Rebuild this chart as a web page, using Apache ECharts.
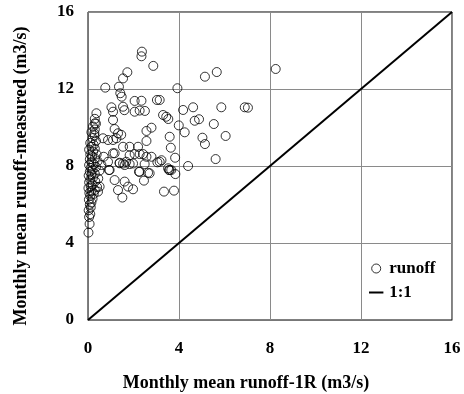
<!DOCTYPE html>
<html>
<head>
<meta charset="utf-8">
<script src="https://cdn.jsdelivr.net/npm/echarts@6/dist/echarts.min.js"></script>
<style>
  html, body { margin: 0; padding: 0; background: #fff; }
  #chart { width: 464px; height: 394px; }
</style>
</head>
<body>
<div id="chart"></div>
<script>
// x: runoff-1R, y: measured (m3/s)
var runoff1R = [
  0.02, 0.07, 0.05, 0.10, 0.03, 0.12, 0.08, 0.15, 0.04, 0.20, 0.10, 0.06, 0.25, 0.15, 0.30, 0.02,
  0.12, 0.40, 0.20, 0.05, 0.32, 0.10, 0.22, 0.45, 0.03, 0.15, 0.30, 0.08, 0.20, 0.50, 0.12, 0.35,
  0.05, 0.25, 0.15, 0.42, 0.08, 0.30, 0.18, 0.10, 0.38, 0.22, 0.05, 0.30, 0.15, 0.25, 0.10, 0.35,
  0.20, 0.28, 0.15, 0.30, 0.22, 0.35, 0.30, 0.37, 0.28, 0.30,
  2.37, 2.35, 2.87, 1.73, 1.54, 0.76, 1.36, 1.42, 1.48, 3.93, 5.14, 5.66, 8.25, 1.03, 1.10, 1.54,
  1.60, 2.05, 2.35, 2.05, 2.27, 2.50, 3.03, 3.15, 3.30, 3.44, 3.53, 4.18, 4.62, 4.69, 4.88, 5.86,
  6.89, 7.03, 5.53, 3.99, 4.25, 6.05, 5.03, 5.14, 5.61, 4.40, 2.57, 2.79, 3.59, 2.57, 3.64, 3.83,
  3.23, 3.05, 3.59, 3.84, 1.10, 1.17, 1.32, 1.46, 0.66, 0.88, 1.10, 1.25, 1.54, 1.83, 2.20, 1.17,
  2.05, 2.27, 2.42, 2.57, 2.79, 0.69, 0.88, 1.39, 1.54, 1.68, 1.83, 1.98, 2.49, 0.95, 2.27, 2.64,
  3.52, 3.66, 1.17, 1.61, 1.32, 1.51, 1.76, 1.98, 2.46, 2.24, 2.71, 3.34, 3.78, 3.15, 3.56, 1.39,
  1.61, 0.59, 0.92, 1.10, 1.83, 0.51, 0.44
];
var runoffMeasured = [
  4.54, 4.99, 5.35, 5.50, 5.70, 5.85, 6.00, 6.10, 6.25, 6.30, 6.45, 6.60, 6.55, 6.70, 6.75, 6.85,
  6.95, 6.90, 7.05, 7.15, 7.20, 7.30, 7.40, 7.35, 7.50, 7.55, 7.60, 7.70, 7.80, 7.75, 7.90, 7.95,
  8.05, 8.10, 8.20, 8.25, 8.35, 8.40, 8.50, 8.60, 8.60, 8.75, 8.85, 8.90, 9.00, 9.10, 9.20, 9.30,
  9.45, 9.60, 9.75, 9.90, 10.05, 10.20, 10.45, 10.74, 9.70, 10.22,
  13.94, 13.70, 13.20, 12.87, 12.55, 12.07, 12.12, 11.78, 11.60, 12.04, 12.64, 12.88, 13.04, 11.05, 10.82, 11.08,
  10.90, 11.38, 11.39, 10.82, 10.88, 10.86, 11.43, 11.43, 10.65, 10.56, 10.44, 10.91, 11.05, 10.35, 10.43, 11.05,
  11.05, 11.03, 10.18, 10.11, 9.75, 9.56, 9.47, 9.14, 8.36, 8.00, 9.82, 9.99, 9.52, 9.30, 8.95, 8.43,
  8.30, 8.19, 7.79, 7.58, 10.39, 9.92, 9.70, 9.62, 9.44, 9.35, 9.35, 9.44, 9.00, 9.00, 9.00, 8.66,
  8.62, 8.62, 8.62, 8.48, 8.48, 8.48, 8.22, 8.17, 8.13, 8.22, 8.10, 8.13, 8.10, 7.79, 7.70, 7.65,
  7.88, 7.79, 7.27, 7.19, 6.75, 6.36, 6.93, 6.79, 7.24, 7.70, 7.62, 6.67, 6.72, 8.22, 7.79, 8.14,
  8.05, 8.05, 7.79, 8.66, 8.56, 6.93, 6.67
];
var lineX = [0, 16];
var lineY = [0, 16];

var chart = echarts.init(document.getElementById('chart'));
var font = '"Liberation Serif", "Times New Roman", serif';

var scatterData = runoff1R.map(function (x, i) { return [x, runoffMeasured[i]]; });
var lineData = lineX.map(function (x, i) { return [x, lineY[i]]; });

// thin bar centred in the legend box (tiny corner triangles keep the box size)
var lineIcon = 'path://M0,0 L0.01,0 L0,0.01 Z M0,4 L16,4 L16,6.2 L0,6.2 Z M15.99,10 L16,10 L16,9.99 Z';

var option = {
  animation: false,
  textStyle: { fontFamily: font },
  grid: {
    left: 88, right: 12, top: 12, bottom: 74,
    outerBoundsMode: 'none',
    containLabel: false,
    show: true, borderColor: '#000', borderWidth: 1
  },
  legend: {
    orient: 'vertical',
    left: 364, top: 255,
    itemGap: 7,
    itemWidth: 16, itemHeight: 9,
    textStyle: { fontFamily: font, fontWeight: 'bold', fontSize: 17, color: '#000' },
    data: [
      { name: 'runoff', icon: 'circle', itemStyle: { color: '#fff', borderColor: '#000', borderWidth: 1 } },
      { name: '1:1', icon: lineIcon, itemStyle: { color: '#000', borderWidth: 0 } }
    ]
  },
  xAxis: {
    type: 'value', min: 0, max: 16, interval: 4,
    name: 'Monthly mean runoff-1R (m3/s)',
    nameLocation: 'middle', nameGap: 54,
    nameTextStyle: { fontFamily: font, fontWeight: 'bold', fontSize: 18, color: '#000', padding: [0, 48, 0, 0] },
    axisLine: { show: true, lineStyle: { color: '#777' } },
    axisTick: { show: false },
    axisLabel: { margin: 20, fontFamily: font, fontWeight: 'bold', fontSize: 17, color: '#000' },
    splitLine: { show: true, lineStyle: { color: '#8a8a8a', width: 1 } }
  },
  yAxis: {
    type: 'value', min: 0, max: 16, interval: 4,
    name: 'Monthly mean runoff-measured (m3/s)',
    nameLocation: 'middle', nameGap: 58,
    nameTextStyle: { fontFamily: font, fontWeight: 'bold', fontSize: 18, color: '#000', padding: [0, 20, 0, 0] },
    axisLine: { show: true, lineStyle: { color: '#777' } },
    axisTick: { show: false },
    axisLabel: { margin: 14, fontFamily: font, fontWeight: 'bold', fontSize: 17, color: '#000' },
    splitLine: { show: true, lineStyle: { color: '#8a8a8a', width: 1 } }
  },
  series: [
    {
      name: 'runoff',
      type: 'scatter',
      symbol: 'circle',
      symbolSize: 9,
      itemStyle: { color: 'rgba(0,0,0,0)', borderColor: '#000', borderWidth: 1 },
      data: scatterData
    },
    {
      name: '1:1',
      type: 'line',
      symbol: 'none',
      lineStyle: { color: '#000', width: 2 },
      itemStyle: { color: '#000' },
      data: lineData
    }
  ]
};
chart.setOption(option);
</script>
</body>
</html>
